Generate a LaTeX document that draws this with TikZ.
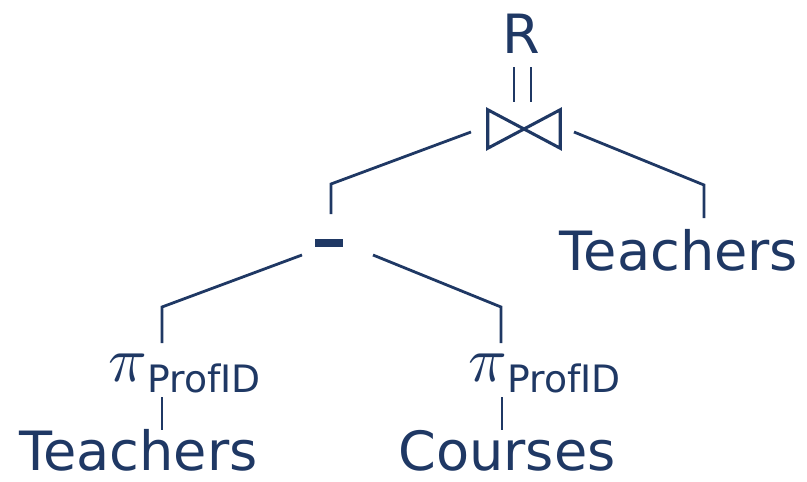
\documentclass[tikz,border=0pt]{standalone}
\usepackage{fontspec}
\usepackage{graphicx}
\setmainfont{DejaVu Sans}
\definecolor{navy}{RGB}{31,56,100}
\begin{document}
\begin{tikzpicture}[x=0.75pt,y=-0.75pt,
  big/.style={text=navy,inner sep=0pt,anchor=base,font=\fontsize{40.6}{48}\selectfont},
  sub/.style={text=navy,inner sep=0pt,anchor=base,font=\fontsize{28.3}{34}\selectfont},
  pisym/.style={text=navy,inner sep=0pt,anchor=base,font=\fontsize{10}{12}\selectfont},
  edge/.style={draw=navy,line width=2.1pt,line join=miter},
  opline/.style={draw=navy,line width=2.3pt,line join=miter}]
\useasboundingbox (0,0) rectangle (807,482);
% nodes
\node[big] (R) at (521,53) {R};
\node[inner sep=0pt,minimum width=54pt,minimum height=28.5pt] (join) at (524,129) {};
\node[big] (T1) at (679,270) {Teachers};
\node[fill=navy,inner sep=0pt,minimum width=21pt,minimum height=6pt] (minus) at (329,243) {};
\node[pisym] (piL) at (128,381) {\scalebox{4.8}{$\pi$}};
\node[sub] (pL) at (204,392) {ProfID};
\node[pisym] (piR) at (488,381) {\scalebox{4.8}{$\pi$}};
\node[sub] (pR) at (564,392) {ProfID};
\node[big] (T2) at (138.5,470) {Teachers};
\node[big] (C) at (507,470) {Courses};
% bowtie
\draw[opline] (join.north west) -- (join.south west) -- (join.north east) -- (join.south east) -- cycle;
% equality under R
\coordinate (e1a) at (514,67); \coordinate (e1b) at (514,102);
\coordinate (e2a) at (531,67); \coordinate (e2b) at (531,102);
\draw[edge] (e1a) -- (e1b);
\draw[edge] (e2a) -- (e2b);
% connector points
\coordinate (jl) at (471,132); \coordinate (jlb) at (331,184); \coordinate (jle) at (331,214);
\coordinate (jr) at (574,132); \coordinate (jrb) at (704,185); \coordinate (jre) at (704,218);
\coordinate (ml) at (302,255); \coordinate (mlb) at (162,307); \coordinate (mle) at (162,343);
\coordinate (mr) at (373,255); \coordinate (mrb) at (501,307); \coordinate (mre) at (501,343);
\coordinate (pla) at (162,397); \coordinate (plb) at (162,430);
\coordinate (pra) at (502,397); \coordinate (prb) at (502,430);
\draw[edge] (jl) -- (jlb) -- (jle);
\draw[edge] (jr) -- (jrb) -- (jre);
\draw[edge] (ml) -- (mlb) -- (mle);
\draw[edge] (mr) -- (mrb) -- (mre);
\draw[edge] (pla) -- (plb);
\draw[edge] (pra) -- (prb);
\end{tikzpicture}
\end{document}
